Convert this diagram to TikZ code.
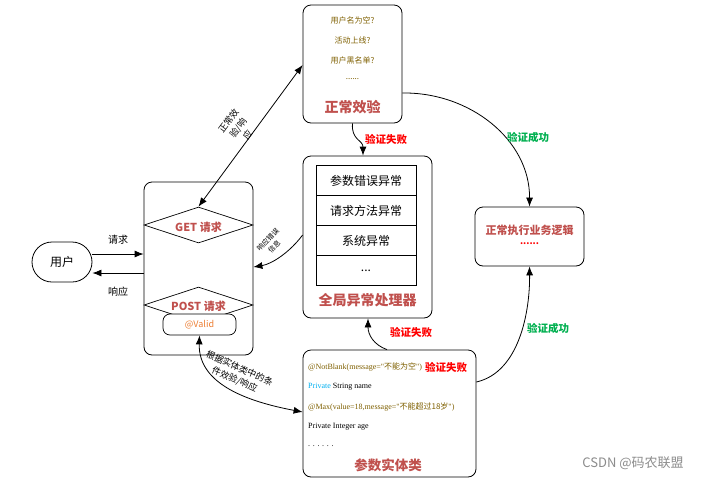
\documentclass[tikz,border=0pt]{standalone}
\usepackage{fontspec}
\setmainfont{Noto Sans CJK SC}
\newfontfamily\codefont{Liberation Serif}
\newfontfamily\cjk{Noto Sans CJK SC}
\usetikzlibrary{arrows.meta,shapes.geometric}
\definecolor{tred}{HTML}{C0504D}
\definecolor{vred}{HTML}{FF0000}
\definecolor{vgreen}{HTML}{00B050}
\definecolor{olive}{HTML}{7F6000}
\definecolor{vorange}{HTML}{ED7D31}
\definecolor{vblue}{HTML}{00B0F0}
\newcommand\fsz[2]{\fontsize{#1}{#2}\selectfont}
\begin{document}
\begin{tikzpicture}[x=1pt,y=-1pt,
  box/.style={draw=black,line width=0.8pt,rounded corners=8pt,fill=white,inner sep=0pt},
  cell/.style={draw=black,line width=0.7pt,minimum width=100pt,minimum height=30pt,inner sep=0pt,font=\fsz{12}{14}},
  dia/.style={draw=black,line width=0.7pt,diamond,aspect=3,inner sep=0pt,minimum width=109pt,minimum height=36pt,fill=white},
  title/.style={text=tred,font=\bfseries\fsz{14}{16}},
  small/.style={text=olive,font=\fsz{8}{10}},
  code/.style={anchor=west,inner sep=0pt,font=\codefont\fsz{8}{10}},
  fail/.style={text=vred,font=\bfseries\fsz{10.5}{12}},
  ok/.style={text=vgreen,font=\bfseries\fsz{10.5}{12}},
  lbl/.style={font=\fsz{10}{12}},
  rlbl/.style={align=center,inner sep=0pt},
  arr/.style={-{Latex[length=9pt,width=7pt]},line width=0.8pt},
  darr/.style={{Latex[length=9pt,width=7pt]}-{Latex[length=9pt,width=7pt]},line width=0.8pt}]
\useasboundingbox (0,0) rectangle (702,480);
\fill[white] (0,0) rectangle (702,480);

% boxes
\node[box,minimum width=99pt,minimum height=118pt] (chk) at (352.5,64) {};
\node[small] (c1) at (352.5,20) {用户名为空?};
\node[small] (c2) at (352.5,40) {活动上线?};
\node[small] (c3) at (352.5,60) {用户黑名单?};
\node[small] (c4) at (352.5,79) {......};
\node[title] (chkt) at (352.5,107) {正常效验};

\node[box,minimum width=129pt,minimum height=162pt] (glob) at (367.5,237) {};
\node[cell] (r1) at (366,180.5) {参数错误异常};
\node[cell] (r2) at (366,210.5) {请求方法异常};
\node[cell] (r3) at (366,240.5) {系统异常};
\node[cell] (r4) at (366,270.5) {...};
\node[title] (globt) at (367.5,300) {全局异常处理器};

\node[box,minimum width=173pt,minimum height=127pt] (ent) at (389.5,413.5) {};
\node[code,text=olive] (e1) at (308,367) {@NotBlank(message="{\cjk 不能为空}")};
\node[code] (e2) at (308,387) {\textcolor{vblue}{Private} String name};
\node[code,text=olive] (e3) at (308,407) {@Max(value=18,message="{\cjk 不能超过18岁}")};
\node[code] (e4) at (308,427) {Private Integer age};
\node[code] (e5) at (308,446) {. . . . . .};
\node[title,font=\bfseries\fsz{13.5}{16}] (entt) at (388,465) {参数实体类};
\node[fail,fill=white,inner sep=1pt] (f3) at (446,367) {验证失败};

\node[box,minimum width=109pt,minimum height=59pt] (biz) at (529.5,236.5) {};
\node[text=tred,font=\bfseries\fsz{11}{13}] (bizt) at (529.5,230) {正常执行业务逻辑};
\node[text=vred,font=\bfseries\fsz{9}{10}] (bizd) at (529.5,244) {......};

\node[box,minimum width=109pt,minimum height=173pt] (req) at (198.5,268.5) {};
\node[dia] (get) at (198.5,225) {};
\node[text=tred,font=\bfseries\fsz{11}{13}] (gett) at (198.5,227) {GET 请求};
\node[dia] (post) at (198.5,305) {};
\node[text=tred,font=\bfseries\fsz{11}{13}] (postt) at (198.5,306) {POST 请求};
\node[box,rounded corners=7pt,line width=0.7pt,minimum width=73pt,minimum height=21pt,text=vorange,font=\fsz{9}{11}] (valid) at (199.5,324.5) {@Valid};

\node[draw=black,line width=0.8pt,rounded corners=20pt,minimum width=60pt,minimum height=40pt,font=\fsz{12}{14}] (user) at (62,262) {用户};

% coordinates
\coordinate (rq) at (0,254);
\coordinate (rs) at (0,273);
\coordinate (y65) at (0,65);
\coordinate (y93) at (0,93);
\coordinate (y235) at (0,235);
\coordinate (y267) at (0,267);
\coordinate (y382) at (0,382);
\coordinate (y412) at (0,412);
\coordinate (x363) at (363,0);
\coordinate (x387) at (387,0);
\coordinate (x368) at (368,0);

% connectors
\draw[arr] (user.east |- rq) -- (req.west |- rq);
\draw[arr] (req.west |- rs) -- (user.east |- rs);
\node[lbl] (lq) at (118,240) {请求};
\node[lbl] (ls) at (118,292) {响应};

\draw[darr] (get.north) -- (chk.west |- y65);
\node[rlbl,font=\fsz{9}{12},rotate=53.5] (ld) at (238,128) {正常效\\验/响\\应};

\draw[arr] (glob.west |- y235) .. controls (290,252) and (272,264) .. (req.east |- y267);
\node[rlbl,font=\fsz{7}{9},rotate=45] (le) at (271,243) {响应错误\\信息};

\draw[arr] (chk.south) .. controls (351,140) and (363,140) .. (glob.north -| x363);
\node[fail] (f1) at (386,139) {验证失败};

\draw[arr] (chk.east |- y93) .. controls (470,92) and (530,140) .. (biz.north);
\node[ok] (s1) at (528,137) {验证成功};

\draw[arr] (ent.east |- y382) .. controls (520,372) and (530,310) .. (biz.south);
\node[ok] (s2) at (548,328) {验证成功};

\draw[arr] (ent.north -| x387) .. controls (374,345) and (368,335) .. (glob.south -| x368);
\node[fail] (f2) at (411,332) {验证失败};

\draw[darr] (valid.south) .. controls (198,385) and (250,402) .. (ent.west |- y412);
\node[rlbl,font=\fsz{9}{12},rotate=-24] (lv) at (237,374) {根据实体类中的条\\件效验/响应};

\node[text=black!45,font=\fsz{13}{15}] (wm) at (633,463) {CSDN @码农联盟};
\end{tikzpicture}
\end{document}
